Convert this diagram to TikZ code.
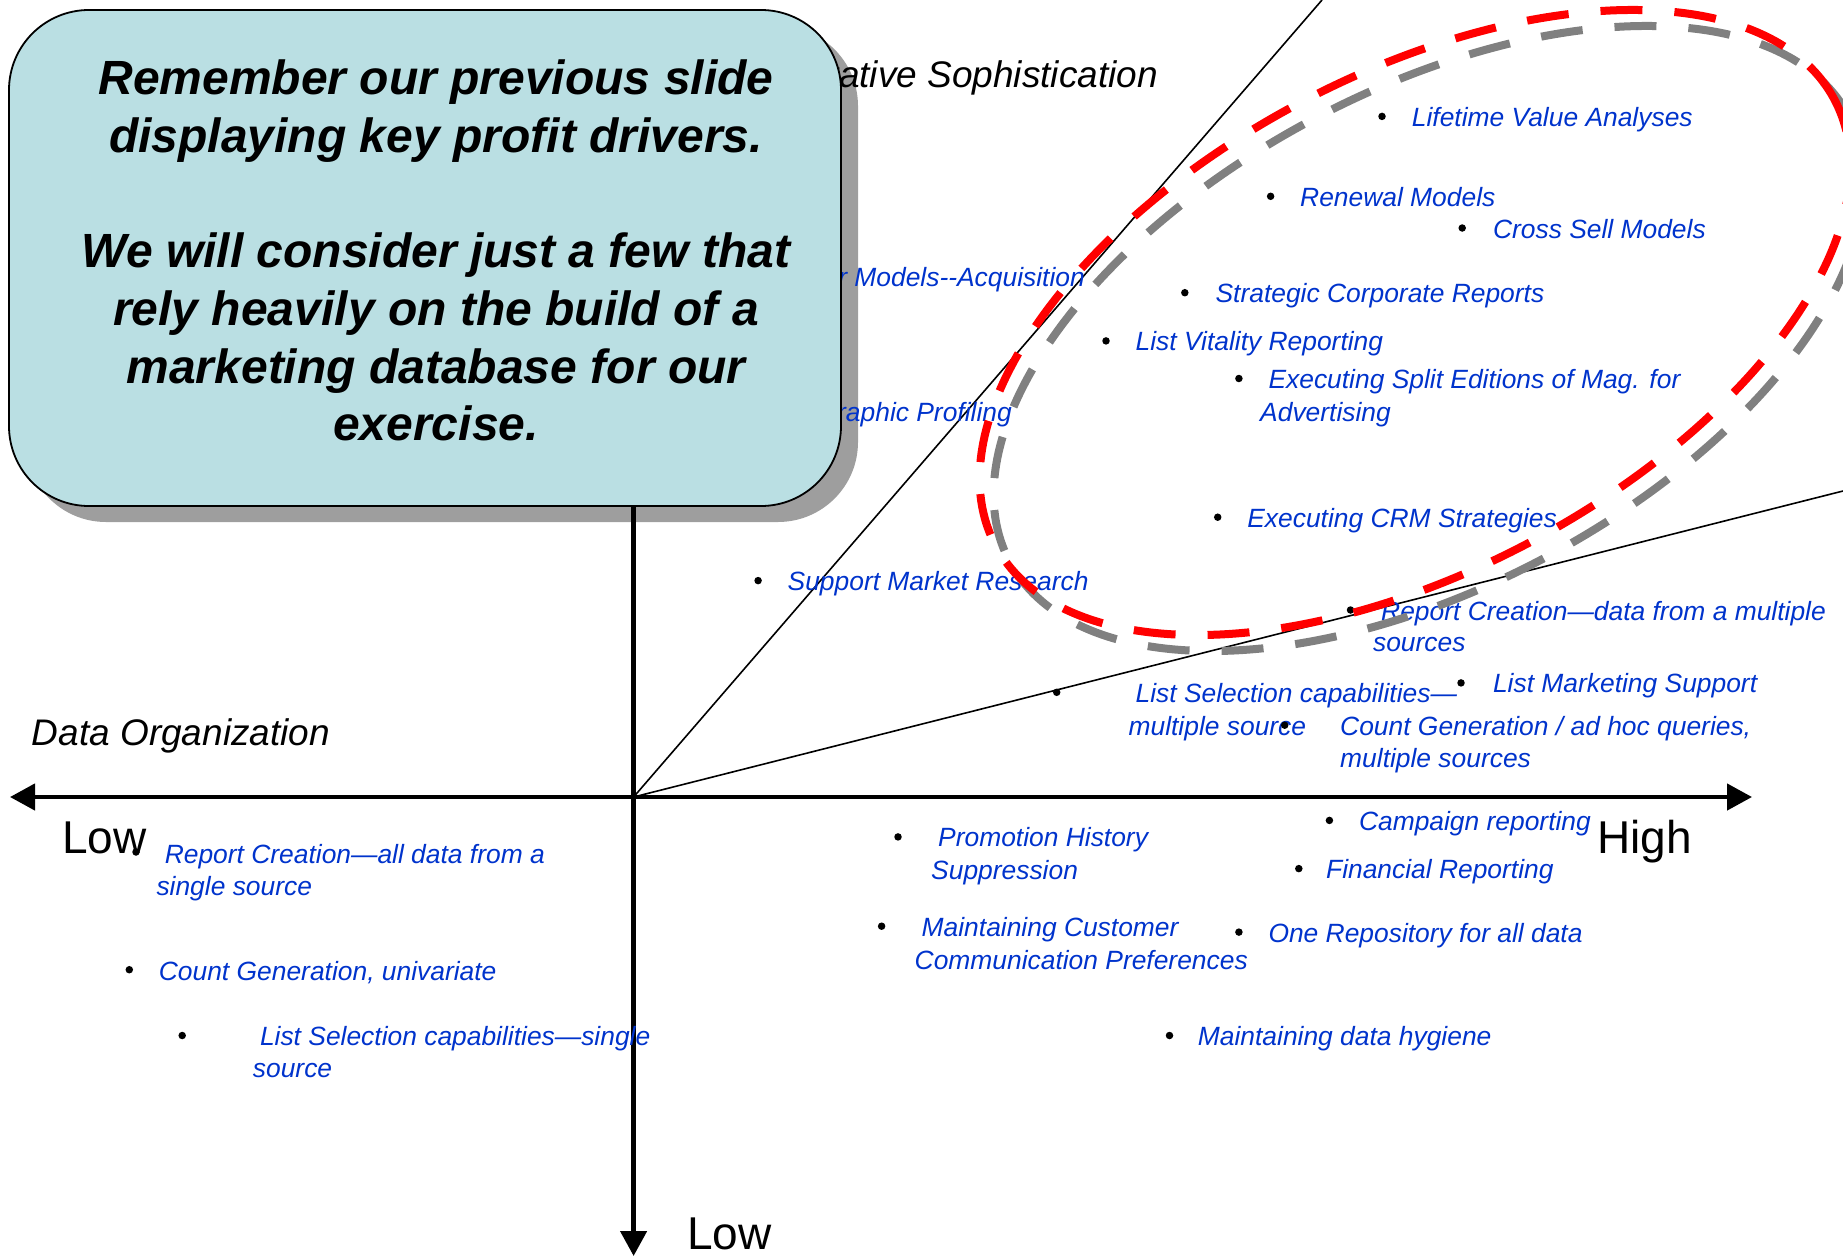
\documentclass[tikz,border=0pt]{standalone}
\usepackage{fontspec}
\setmainfont{Liberation Sans}
\usetikzlibrary{arrows.meta}
\definecolor{itemblue}{HTML}{0033CC}
\definecolor{boxfill}{RGB}{186,223,227}
\definecolor{shadowgray}{RGB}{158,158,158}
\definecolor{dashgray}{RGB}{128,128,128}
\definecolor{dashred}{RGB}{255,0,0}
\newcommand{\itemfont}{\fontsize{26.4}{32}\selectfont\itshape}
\newcommand{\axfont}{\fontsize{37}{44}\selectfont\itshape}
\newcommand{\lhfont}{\fontsize{46}{55}\selectfont}
\newcommand{\boxfont}{\fontsize{48}{57.7}\selectfont\bfseries\itshape}
\tikzset{
  itemtxt/.style={font=\itemfont, text=itemblue, anchor=base west, inner sep=0pt},
  itemtxtr/.style={font=\itemfont, text=itemblue, anchor=base east, inner sep=0pt},
  itembul/.style={circle, fill=black, inner sep=0pt, minimum size=7.5pt},
  axtitle/.style={font=\axfont, anchor=base west, inner sep=0pt},
  lowhigh/.style={font=\lhfont, anchor=base west, inner sep=0pt},
  boxtxt/.style={font=\boxfont, anchor=base, inner sep=0pt},
  axisline/.style={line width=4.5pt},
  thinline/.style={line width=1.6pt},
  ovaldash/.style={line width=8pt, dash pattern=on 42pt off 32pt},
}
\begin{document}
\begin{tikzpicture}[x=1pt,y=-1pt]
\useasboundingbox (0,0) rectangle (1843,1258);
% shadow of callout
\fill[shadowgray, rounded corners=80pt] (26,26) rectangle (858,522);
% coordinates
\coordinate (O) at (633.6,797);
\coordinate (L) at (10,797);
\coordinate (R) at (1752,797);
\coordinate (T) at (633.6,480);
\coordinate (B) at (633.6,1256);
\coordinate (D1) at (1322,0);
\coordinate (D2) at (1843,491);
% axes
\draw[axisline, {Triangle[length=25pt,width=26pt]}-{Triangle[length=25pt,width=26pt]}] (L) -- (R);
\draw[axisline, -{Triangle[length=25pt,width=26pt]}] (T) -- (B);
\draw[thinline] (O) -- (D1);
\draw[thinline] (O) -- (D2);
% axis labels
\node[axtitle] (dataorg) at (31.7,745) {Data Organization};
\node[axtitle, anchor=base east] (quant) at (1158,87) {itative Sophistication};
\node[lowhigh] (lowl) at (62,853) {Low};
\node[lowhigh] (high) at (1597,853) {High};
\node[lowhigh] (lowb) at (687,1249) {Low};
% items
\node[itembul] (b1) at (1382,116.4) {};
\node[itemtxt] (t1) at (1411.7,126.4) {Lifetime Value Analyses};
\node[itembul] (b2) at (1270.6,196.3) {};
\node[itemtxt] (t2) at (1300,206.3) {Renewal Models};
\node[itembul] (b3) at (1462.2,228) {};
\node[itemtxt] (t3) at (1492.8,238) {Cross Sell Models};
\node[itemtxtr] (t4) at (1085,286) {Cluster Models-{}-Acquisition};
\node[itembul] (b5) at (1184.8,292.7) {};
\node[itemtxt] (t5) at (1215.4,302.7) {Strategic Corporate Reports};
\node[itembul] (b6) at (1106,340.9) {};
\node[itemtxt] (t6) at (1135.4,350.9) {List Vitality Reporting};
\node[itembul] (b7) at (1238.9,378.5) {};
\node[itemtxt] (t7a) at (1268.3,388.5) {Executing Split Editions of Mag. for};
\node[itemtxt] (t7b) at (1260,421.4) {Advertising};
\node[itemtxtr] (t8) at (1012,421.4) {Demographic Profiling};
\node[itembul] (b9) at (1217.7,517.2) {};
\node[itemtxt] (t9) at (1247.1,527.2) {Executing CRM Strategies};
\node[itembul] (b10) at (758.1,580.6) {};
\node[itemtxt] (t10) at (787.5,590.6) {Support Market Research};
\node[itembul] (b11) at (1350.5,610) {};
\node[itemtxt] (t11a) at (1381,620) {Report Creation—data from a multiple};
\node[itemtxt] (t11b) at (1372.9,651.8) {sources};
\node[itembul] (b12) at (1056.7,692.3) {};
\node[itemtxt] (t12a) at (1135.4,702.3) {List Selection capabilities—};
\node[itemtxt] (t12b) at (1128.4,735.2) {multiple source};
\node[itembul] (b13) at (1461,682.9) {};
\node[itemtxt] (t13) at (1492.8,692.9) {List Marketing Support};
\node[itembul] (b14) at (1284.7,725.2) {};
\node[itemtxt] (t14a) at (1340,735.2) {Count Generation / ad hoc queries,};
\node[itemtxt] (t14b) at (1340,767) {multiple sources};
\node[itembul] (b15) at (1329.4,820.4) {};
\node[itemtxt] (t15) at (1358.8,830.4) {Campaign reporting};
\node[itembul] (b16) at (898,836.9) {};
\node[itemtxt] (t16a) at (938,846.9) {Promotion History};
\node[itemtxt] (t16b) at (931,879.8) {Suppression};
\node[itembul] (b17) at (1298.8,868.6) {};
\node[itemtxt] (t17) at (1325.9,878.6) {Financial Reporting};
\node[itembul] (b18) at (881.6,926.2) {};
\node[itemtxt] (t18a) at (921.5,936.2) {Maintaining Customer};
\node[itemtxt] (t18b) at (914.5,969.1) {Communication Preferences};
\node[itembul] (b19) at (1238.9,932.1) {};
\node[itemtxt] (t19) at (1268.3,942.1) {One Repository for all data};
\node[itembul] (b20) at (1169.5,1035.5) {};
\node[itemtxt] (t20) at (1197.7,1045.5) {Maintaining data hygiene};
\node[itembul] (b21) at (136,852) {};
\node[itemtxt] (t21a) at (164.6,863.3) {Report Creation—all data from a};
\node[itemtxt] (t21b) at (156.3,895.1) {single source};
\node[itembul] (b22) at (129.3,969.7) {};
\node[itemtxt] (t22) at (158.7,980.9) {Count Generation, univariate};
\node[itembul] (b23) at (182.2,1035.5) {};
\node[itemtxt] (t23a) at (259.8,1045.5) {List Selection capabilities—single};
\node[itemtxt] (t23b) at (252.7,1077.3) {source};
% dashed ovals
\coordinate (Eg) at (1429,338.5);
\coordinate (Er) at (1415,322.5);
\draw[dashgray, ovaldash, rotate around={28:(Eg)}] (Eg) ellipse [x radius=475pt, y radius=248pt];
\draw[dashred, ovaldash, rotate around={28:(Er)}] (Er) ellipse [x radius=475pt, y radius=248pt];
% callout box
\draw[line width=1.8pt, fill=boxfill, rounded corners=80pt] (9,10) rectangle (841,506);
\node[boxtxt] (m1) at (436,94.7) {Remember our previous slide};
\node[boxtxt] (m2) at (436,152.4) {displaying key profit drivers.};
\node[boxtxt] (m3) at (436,267.8) {We will consider just a few that};
\node[boxtxt] (m4) at (436,325.5) {rely heavily on the build of a};
\node[boxtxt] (m5) at (436,383.2) {marketing database for our};
\node[boxtxt] (m6) at (436,440.8) {exercise.};
\end{tikzpicture}
\end{document}
